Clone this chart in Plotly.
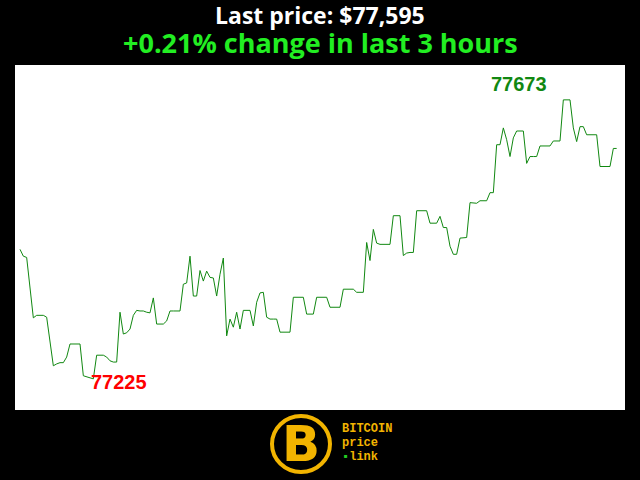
import plotly.graph_objects as go

minutes = list(range(180))
prices = [
    77433, 77422, 77420, 77372, 77323, 77327, 77327, 77327, 77324, 77281,
    77246, 77249, 77251, 77251, 77260, 77281, 77281, 77281, 77281, 77230,
    77228, 77227, 77225, 77263, 77263, 77263, 77260, 77254, 77252, 77252,
    77332, 77297, 77299, 77305, 77327, 77335, 77334, 77334, 77332, 77331,
    77355, 77313, 77313, 77313, 77318, 77334, 77334, 77334, 77334, 77377,
    77379, 77422, 77358, 77358, 77399, 77382, 77398, 77388, 77387, 77358,
    77393, 77419, 77294, 77321, 77308, 77332, 77305, 77335, 77335, 77335,
    77310, 77348, 77363, 77364, 77324, 77321, 77321, 77321, 77300, 77300,
    77300, 77300, 77356, 77356, 77356, 77356, 77329, 77329, 77329, 77356,
    77356, 77356, 77356, 77340, 77340, 77340, 77340, 77369, 77369, 77369,
    77369, 77364, 77364, 77364, 77444, 77415, 77465, 77443, 77441, 77441,
    77441, 77441, 77487, 77487, 77487, 77423, 77427, 77428, 77428, 77495,
    77495, 77495, 77495, 77475, 77475, 77475, 77486, 77468, 77468, 77438,
    77425, 77425, 77451, 77452, 77452, 77508, 77507, 77507, 77511, 77511,
    77511, 77524, 77524, 77601, 77601, 77628, 77609, 77582, 77612, 77623,
    77623, 77623, 77571, 77582, 77582, 77582, 77599, 77599, 77599, 77599,
    77607, 77607, 77607, 77673, 77673, 77673, 77628, 77606, 77630, 77630,
    77617, 77617, 77617, 77617, 77566, 77566, 77566, 77566, 77595, 77595,
]

title_line1 = "Last price: $77,595"
title_line2 = "+0.21% change in last 3 hours"
logo_lines = ["BITCOIN", "price", "<span style='color:#22cc22'>\u25aa</span>link"]

hi = max(prices)
lo = min(prices)
i_hi = prices.index(hi)
i_lo = prices.index(lo)

fig = go.Figure()
fig.add_trace(go.Scatter(
    x=minutes, y=prices, mode="lines",
    line=dict(color="#118811", width=1),
    hoverinfo="skip", showlegend=False,
))

fig.update_layout(
    width=640, height=480,
    paper_bgcolor="black", plot_bgcolor="white",
    margin=dict(l=15, r=15, t=65, b=70),
    xaxis=dict(visible=False, range=[-1.5, 181.5], fixedrange=True),
    yaxis=dict(visible=False, range=[77175, 77729], fixedrange=True),
    showlegend=False,
)

annotations = [
    dict(x=0.5, y=(410 - 15) / 345, xref="paper", yref="paper", text=f"<b>{title_line1}</b>",
         showarrow=False, font=dict(family="Open Sans", size=23, color="white"),
         xanchor="center", yanchor="middle"),
    dict(x=0.5, y=(410 - 42) / 345, xref="paper", yref="paper", text=f"<b>{title_line2}</b>",
         showarrow=False, font=dict(family="Open Sans", size=27, color="#22ee22"),
         xanchor="center", yanchor="middle"),
    dict(x=i_hi, y=hi, xref="x", yref="y", text=f"<b>{hi}</b>", showarrow=False,
         font=dict(family="Liberation Sans", size=20, color="#118811"),
         xanchor="center", yanchor="middle", xshift=-44, yshift=16),
    dict(x=i_lo, y=lo, xref="x", yref="y", text=f"<b>{lo}</b>", showarrow=False,
         font=dict(family="Liberation Sans", size=20, color="red"),
         xanchor="center", yanchor="middle", xshift=26, yshift=-3),
    dict(x=(301 - 15) / 610, y=(410 - 444) / 345, xref="paper", yref="paper",
         text="<b>B</b>", showarrow=False,
         font=dict(family="DejaVu Sans", size=50, color="#f2b400"),
         xanchor="center", yanchor="middle"),
]
for k, t in enumerate(logo_lines):
    annotations.append(dict(
        x=(340 - 15) / 610, y=(410 - (429 + 14 * k)) / 345, xref="paper", yref="paper",
        text=f"<b>{t}</b>", showarrow=False,
        font=dict(family="Liberation Mono", size=12, color="#f2b400"),
        xanchor="left", yanchor="middle"))
fig.update_layout(annotations=annotations)

fig.add_shape(type="circle", xref="paper", yref="paper",
              x0=(272 - 15) / 610, x1=(330 - 15) / 610,
              y0=(410 - 472) / 345, y1=(410 - 416) / 345,
              line=dict(color="#f2b400", width=4), fillcolor="black")

fig.write_html(
    "out.html",
    config={"displayModeBar": False},
    post_script="document.body.style.margin='0';document.body.style.background='black';",
)
